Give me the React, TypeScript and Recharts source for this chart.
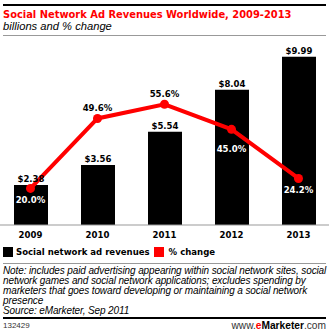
import { ComposedChart, Bar, Line, XAxis, YAxis, LabelList } from "recharts";

const YEARS = ["2009", "2010", "2011", "2012", "2013"];
const REVENUES = [2.38, 3.56, 5.54, 8.04, 9.99];
const PCT_CHANGE = [20.0, 49.6, 55.6, 45.0, 24.2];
// where each % label sits relative to its point
const PCT_LABEL_SIDE = ["below", "above", "above", "below", "below"];

const NOTE_LINES = [
  "Note: includes paid advertising appearing within social network sites, social",
  "network games and social network applications; excludes spending by",
  "marketers that goes toward developing or maintaining a social network",
  "presence",
  "Source: eMarketer, Sep 2011",
];

const data = YEARS.map((year, i) => ({ year, revenue: REVENUES[i], pct: PCT_CHANGE[i] }));

const RED = "#ff0000";
const BOLD_FONT = "'DejaVu Sans Condensed', 'DejaVu Sans', Verdana, sans-serif";
const PLAIN_FONT = "'Liberation Sans', Arial, sans-serif";

function YearTick(props: any) {
  const { x, y, payload } = props;
  return (
    <text x={x} y={y + 13} textAnchor="middle" fontSize={9.5} fontWeight="bold" fontFamily={BOLD_FONT} fill="#000">
      {payload.value}
    </text>
  );
}

function PctLabel(props: any) {
  const { x, y, value, index } = props;
  const below = PCT_LABEL_SIDE[index] === "below";
  const dy = below ? (index === 3 ? 23 : 15) : -7;
  return (
    <text x={x} y={y + dy} textAnchor="middle" fontSize={9.5} fontWeight="bold" fontFamily={BOLD_FONT} fill={below ? "#fff" : "#000"}>
      {Number(value).toFixed(1)}%
    </text>
  );
}

function RevLabel(props: any) {
  const { x, y, width, value } = props;
  return (
    <text x={x + width / 2} y={y - 3} textAnchor="middle" fontSize={9.5} fontWeight="bold" fontFamily={BOLD_FONT} fill="#000">
      ${Number(value).toFixed(2)}
    </text>
  );
}

export default function App() {
  return (
    <div style={{ position: "absolute", left: 0, top: 0, width: 329, height: 334, background: "#fff", overflow: "hidden" }}>
      <div style={{ position: "absolute", left: 3, top: 4, width: 323, height: 2, background: "#000" }} />
      <div style={{ position: "absolute", left: 3, top: 8, fontFamily: BOLD_FONT, fontWeight: "bold", fontSize: 11, color: RED, whiteSpace: "nowrap", lineHeight: "14px" }}>
        Social Network Ad Revenues Worldwide, 2009-2013
      </div>
      <div style={{ position: "absolute", left: 3, top: 19, fontFamily: PLAIN_FONT, fontStyle: "italic", fontSize: 11.2, color: "#000", whiteSpace: "nowrap", lineHeight: "14px" }}>
        billions and % change
      </div>
      <div style={{ position: "absolute", left: 3, top: 35, width: 323, height: 1, background: "#999" }} />

      <div style={{ position: "absolute", left: -3, top: 0 }}>
        <ComposedChart width={335} height={245} data={data} margin={{ top: 23, right: 0, bottom: 0, left: 0 }}>
          <XAxis dataKey="year" height={20} tickLine={false} tickSize={0} tickMargin={0} axisLine={{ stroke: "#999" }} tick={<YearTick />} interval={0} />
          <YAxis yAxisId="rev" hide domain={[0, 12]} />
          <YAxis yAxisId="pct" orientation="right" hide domain={[4.5, 90]} />
          <Bar yAxisId="rev" dataKey="revenue" fill="#000" barSize={34} isAnimationActive={false}>
            <LabelList dataKey="revenue" content={<RevLabel />} />
          </Bar>
          <Line
            yAxisId="pct"
            dataKey="pct"
            type="linear"
            stroke={RED}
            strokeWidth={4}
            dot={{ r: 4.5, fill: RED, stroke: RED, strokeWidth: 0 }}
            isAnimationActive={false}
          >
            <LabelList dataKey="pct" content={<PctLabel />} />
          </Line>
        </ComposedChart>
      </div>

      <div style={{ position: "absolute", left: 3, top: 246, display: "flex", alignItems: "center", fontFamily: BOLD_FONT, fontWeight: "bold", fontSize: 9.5, whiteSpace: "nowrap", lineHeight: "12px" }}>
        <span style={{ display: "inline-block", width: 10, height: 10, background: "#000", marginRight: 3 }} />
        <span>Social network ad revenues</span>
        <span style={{ display: "inline-block", width: 10, height: 10, background: RED, marginLeft: 4, marginRight: 5 }} />
        <span>% change</span>
      </div>

      <div style={{ position: "absolute", left: 3, top: 263, width: 323, height: 1, background: "#999" }} />
      <div style={{ position: "absolute", left: 3, top: 266, fontFamily: PLAIN_FONT, fontStyle: "italic", fontSize: 10, letterSpacing: -0.12, color: "#000", lineHeight: "10px", whiteSpace: "nowrap" }}>
        {NOTE_LINES.map((l) => (
          <div key={l}>{l}</div>
        ))}
      </div>
      <div style={{ position: "absolute", left: 3, top: 317, width: 323, height: 2, background: "#000" }} />
      <div style={{ position: "absolute", left: 3, top: 321, fontFamily: PLAIN_FONT, fontSize: 8, color: "#333", lineHeight: "10px" }}>132429</div>
      <div style={{ position: "absolute", right: 3, top: 320, fontFamily: PLAIN_FONT, fontSize: 10.2, color: "#333", lineHeight: "11px", whiteSpace: "nowrap" }}>
        www.<span style={{ color: RED, fontWeight: "bold" }}>e</span>
        <span style={{ fontWeight: "bold", color: "#000" }}>Marketer</span>.com
      </div>
    </div>
  );
}
